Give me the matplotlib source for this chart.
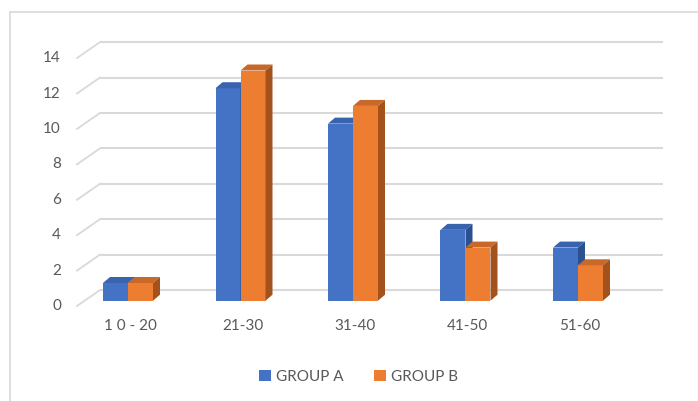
import matplotlib
matplotlib.use("Agg")
import matplotlib.pyplot as plt
from matplotlib.patches import Rectangle, Polygon, Patch
from matplotlib.lines import Line2D
from matplotlib.transforms import offset_copy, IdentityTransform

categories = ["1 0 - 20", "21-30", "31-40", "41-50", "51-60"]
group_a = [1, 12, 10, 4, 3]
group_b = [1, 13, 11, 3, 2]
series_names = ["GROUP A", "GROUP B"]
y_ticks = [0, 2, 4, 6, 8, 10, 12, 14]

plt.rcParams["font.family"] = ["Lato", "DejaVu Sans"]
TEXT = "#595959"
GRID = "#d9d9d9"
FS = 11

# face colours: front, top, side
blue = ("#4472C4", "#3A63AE", "#2C4F8F")
orange = ("#ED7D31", "#C8692A", "#A3521C")

W, H = 698, 401
fig = plt.figure(figsize=(W / 100, H / 100), dpi=100)

# axes = plane of the bars' front faces
left_px, right_px = 84.6, 647.6
bot_px, top_px = 300.7, 52.8
ax = fig.add_axes([left_px / W, 1 - bot_px / H,
                   (right_px - left_px) / W, (bot_px - top_px) / H])
xmin = (left_px - 128) / 112.5
xmax = (right_px - 128) / 112.5
ax.set_xlim(xmin, xmax)
ax.set_ylim(0, 14)
ax.axis("off")

# depth offsets in pixels (y up)
back = offset_copy(ax.transData, fig=fig, x=15.4, y=10.7, units="dots")
front = offset_copy(ax.transData, fig=fig, x=-7.6, y=-5.3, units="dots")
bdx, bdy = 7.0, 6.0
bar_back = offset_copy(ax.transData, fig=fig, x=bdx, y=bdy, units="dots")
ident = IdentityTransform()

# chart frame (top and left border)
fig.add_artist(Line2D([10 / W, 10 / W], [0, 1 - 12 / H], transform=fig.transFigure,
                      color=GRID, lw=1.2))
fig.add_artist(Line2D([10 / W, 1], [1 - 12 / H, 1 - 12 / H], transform=fig.transFigure,
                      color=GRID, lw=1.2))

# back wall gridlines and slanted side-wall lines
for v in y_ticks:
    ax.plot([xmin, xmax], [v, v], color=GRID, lw=1.5, transform=back,
            clip_on=False, zorder=1, solid_capstyle="butt")
    p0 = front.transform((xmin, v))
    p1 = back.transform((xmin, v))
    ax.add_line(Line2D([p0[0], p1[0]], [p0[1], p1[1]], transform=ident,
                       color=GRID, lw=1.3, zorder=1, clip_on=False))
    ax.text(xmin, v, str(v), transform=offset_copy(ax.transData, fig=fig, x=-7.6 - 16,
            y=-5.3, units="dots"), ha="right", va="center", color=TEXT, fontsize=FS)

bar_w = 25 / 112.5


def face(points, color):
    ax.add_patch(Polygon(points, closed=True, transform=ident, facecolor=color,
                         edgecolor="none", zorder=3, clip_on=False))


def draw_bar(x0, h, cols):
    fc, tc, sc = cols
    x1 = x0 + bar_w
    ax.add_patch(Rectangle((x0, 0), bar_w, h, facecolor=fc, edgecolor="none",
                           zorder=3, clip_on=False))
    # top face
    p = [ax.transData.transform(pt) for pt in [(x0, h), (x1, h)]]
    q = [bar_back.transform(pt) for pt in [(x1, h), (x0, h)]]
    face(p + q, tc)
    # right side face
    p = [ax.transData.transform(pt) for pt in [(x1, 0), (x1, h)]]
    q = [bar_back.transform(pt) for pt in [(x1, h), (x1, 0)]]
    face(p + q, sc)


for i in range(len(categories)):
    draw_bar(i - bar_w, group_a[i], blue)
    draw_bar(i, group_b[i], orange)
    ax.text(i, 0, categories[i],
            transform=offset_copy(ax.transData, fig=fig, x=2, y=-25.5, units="dots"),
            ha="center", va="center", color=TEXT, fontsize=FS)

handles = [Patch(facecolor=blue[0], edgecolor="none"),
           Patch(facecolor=orange[0], edgecolor="none")]
fig.legend(handles, series_names, loc="center", bbox_to_anchor=(358.5 / W, 1 - 377 / H),
           ncol=2, frameon=False, fontsize=FS, labelcolor=TEXT,
           handlelength=0.75, handleheight=0.75, handletextpad=0.35, columnspacing=2.0,
           borderpad=0)

fig.savefig("out.png", dpi=100)
